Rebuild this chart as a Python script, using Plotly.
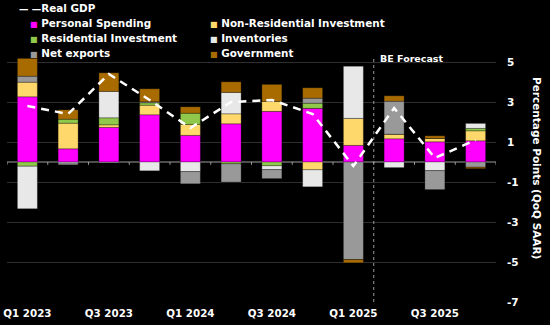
import plotly.graph_objects as go

quarters = ["Q1 2023", "Q2 2023", "Q3 2023", "Q4 2023",
            "Q1 2024", "Q2 2024", "Q3 2024", "Q4 2024",
            "Q1 2025", "Q2 2025", "Q3 2025", "Q4 2025"]

personal_spending = [3.26, 0.66, 1.73, 2.36, 1.33, 1.91, 2.53, 2.68, 0.83, 1.16, 1.01, 1.06]
non_res_investment = [0.73, 1.28, 0.13, 0.48, 0.55, 0.50, 0.50, -0.39, 1.35, 0.23, 0.17, 0.50]
res_investment = [-0.21, 0.20, 0.35, 0.12, 0.56, -0.09, -0.19, 0.26, 0.0, 0.0, 0.0, 0.12]
inventories = [-2.13, -0.05, 1.32, -0.44, -0.48, 1.07, -0.19, -0.85, 2.61, -0.28, -0.43, 0.25]
net_exports = [0.30, -0.09, -0.05, 0.05, -0.61, -0.91, -0.45, 0.25, -4.88, 1.65, -0.95, -0.26]
government = [0.89, 0.47, 0.93, 0.65, 0.32, 0.53, 0.85, 0.52, -0.16, 0.27, 0.13, -0.07]
real_gdp = [2.8, 2.4, 4.4, 3.1, 1.7, 3.0, 3.1, 2.4, -0.2, 2.7, 0.2, 1.1]

y_ticks = [5, 3, 1, -1, -3, -5, -7]
forecast_start = 8.5  # boundary between Q1 2025 and Q2 2025

components = [
    ("Personal Spending", personal_spending, "#ff00ff"),
    ("Non-Residential Investment", non_res_investment, "#ffd86b"),
    ("Residential Investment", res_investment, "#8fc84a"),
    ("Inventories", inventories, "#e8e8e8"),
    ("Net exports", net_exports, "#999999"),
    ("Government", government, "#a86b00"),
]

FONT = "DejaVu Sans"
x = list(range(len(quarters)))

fig = go.Figure()
for name, vals, color in components:
    fig.add_trace(go.Bar(
        x=x, y=vals, name=name, width=0.49,
        marker=dict(color=color, line=dict(color="rgba(0,0,0,0.45)", width=0.6)),
        showlegend=False,
    ))

fig.add_trace(go.Scatter(
    x=x, y=real_gdp, mode="lines", name="Real GDP",
    line=dict(color="white", width=2.5, dash="8px,6px"),
    showlegend=False,
))

shapes = [
    dict(type="line", xref="x", yref="paper", x0=forecast_start, x1=forecast_start,
         y0=0, y1=1, line=dict(color="#9a9a9a", width=1, dash="dot"), layer="above"),
    dict(type="line", xref="paper", yref="y", x0=0, x1=1, y0=0, y1=0,
         line=dict(color="#9c9c9c", width=1), layer="below"),
]
# small ticks on the zero line between quarters
for i in range(len(quarters) + 1):
    shapes.append(dict(type="line", xref="x", yref="y", x0=i - 0.5, x1=i - 0.5,
                       y0=0, y1=-0.14, line=dict(color="#9c9c9c", width=1), layer="below"))

W, H = 550, 325
ML, MR, MT, MB = 7, 54, 56, 23
pw, ph = W - ML - MR, H - MT - MB


def px_x(px):
    return (px - ML) / pw


def px_y(py):
    return (H - MB - py) / ph


legend_items = [
    ("Personal Spending", "#ff00ff", 28, 23),
    ("Non-Residential Investment", "#ffd86b", 208, 23),
    ("Residential Investment", "#8fc84a", 28, 38),
    ("Inventories", "#e8e8e8", 208, 38),
    ("Net exports", "#999999", 28, 52.5),
    ("Government", "#a86b00", 208, 52.5),
]

annotations = [
    dict(text="<span style='font-size:9.5px'>\u2014 \u2014</span>Real GDP", xref="paper", yref="paper",
         x=px_x(17), y=px_y(8.5), xanchor="left", yanchor="middle", showarrow=False,
         font=dict(family=FONT, size=10.4, color="white", weight="bold")),
    dict(text="BE Forecast", xref="x", yref="paper", x=forecast_start, xshift=4,
         y=px_y(58), xanchor="left", yanchor="middle", showarrow=False,
         font=dict(family=FONT, size=9.5, color="white", weight="bold")),
    dict(text="Percentage Points (QoQ SAAR)", xref="paper", yref="paper",
         x=px_x(537), y=px_y(168), xanchor="center", yanchor="middle", textangle=90,
         showarrow=False, font=dict(family=FONT, size=10.5, color="white", weight="bold")),
]
for label, color, lx, ly in legend_items:
    annotations.append(dict(
        text=f"<span style='color:{color};font-size:8px'>\u25a0</span> {label}",
        xref="paper", yref="paper", x=px_x(lx), y=px_y(ly),
        xanchor="left", yanchor="middle", showarrow=False,
        font=dict(family=FONT, size=10.4, color="white", weight="bold"),
    ))

fig.update_layout(
    width=W, height=H,
    margin=dict(l=ML, r=MR, t=MT, b=MB, autoexpand=False),
    paper_bgcolor="black", plot_bgcolor="black",
    barmode="relative",
    shapes=shapes,
    annotations=annotations,
    showlegend=False,
    xaxis=dict(
        range=[-0.5, len(quarters) - 0.5], automargin=False,
        tickmode="array", tickvals=x[::2], ticktext=quarters[::2],
        showgrid=False, zeroline=False, showline=False, ticks="",
        tickfont=dict(family=FONT, size=10.3, color="white", weight="bold"),
        ticklabelstandoff=4,
    ),
    yaxis=dict(
        side="right", range=[-7, 5.3], automargin=False,
        tickmode="array", tickvals=y_ticks, ticktext=[str(v) for v in y_ticks],
        showgrid=True, gridcolor="#2e2e2e", gridwidth=1,
        zeroline=False, showline=False, ticks="",
        tickfont=dict(family=FONT, size=10.5, color="white", weight="bold"),
        ticklabelstandoff=10,
    ),
)

fig.write_html("out.html")
